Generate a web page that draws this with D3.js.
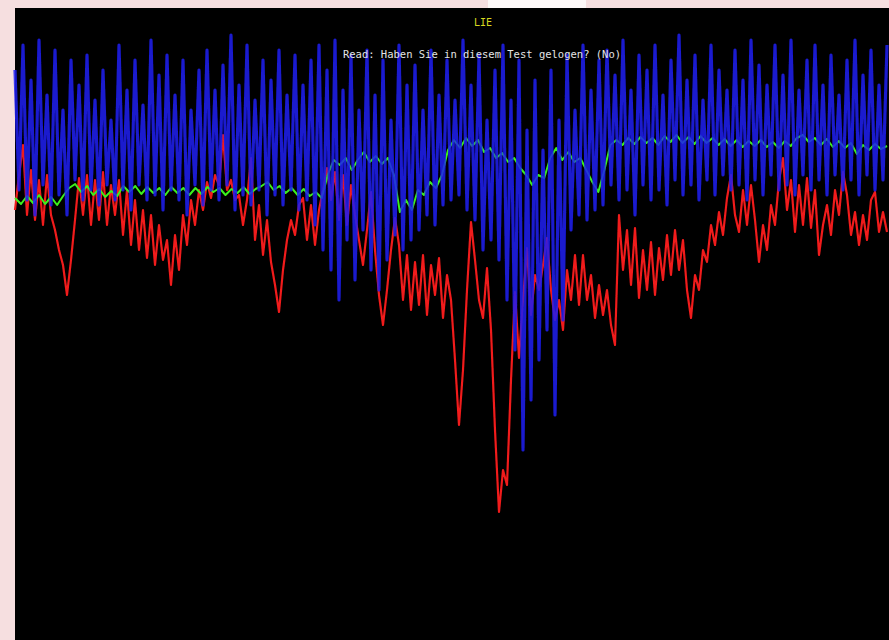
<!DOCTYPE html>
<html>
<head>
<meta charset="utf-8">
<script src="https://cdn.jsdelivr.net/npm/d3@7"></script>
<style>
  html, body { margin: 0; padding: 0; background: #f6dfe0; }
  svg { display: block; }
</style>
</head>
<body>
<svg id="eeg"></svg>
<script>
const width = 889;
const height = 640;

const title = "LIE";
const subtitle = "Read: Haben Sie in diesem Test gelogen? (No)";

// channel amplitudes (arbitrary units, 0 = mid screen)
const blue = [
  254,134,279,124,244,109,284,139,229,119,274,129,214,109,264,144,239,124,269,134,
  224,119,254,139,204,124,279,134,234,114,264,139,219,124,284,129,249,114,269,134,
  229,124,264,109,214,139,254,119,274,134,234,124,259,139,289,114,239,129,279,119,
  224,134,264,109,244,129,274,119,229,134,269,114,239,124,264,99,279,
  74,254,54,284,24,234,84,269,44,214,94,274,54,229,34,264,64,204,89,279,
  74,239,84,259,94,214,109,274,99,229,119,264,124,224,129,284,114,239,104,269,
  74,204,84,254,64,279,24,224,-26,264,-126,194,-76,244,-36,174,-6,254,-91,204,
  4,269,94,214,109,279,104,234,114,264,
  119,274,139,249,124,284,134,234,109,269,139,254,124,279,134,229,119,264,144,289,
  129,244,139,269,124,224,144,279,129,254,149,234,134,274,139,244,124,284,144,259,
  129,239,149,279,134,249,139,284,129,234,149,264,134,279,144,239,129,269,149,229,
  134,264,144,284,129,249,149,274,134,239,144,279
];

const red = [
  114,149,179,109,154,104,144,99,149,109,94,74,59,29,64,104,146,109,149,99,
  144,104,152,99,139,109,144,89,134,79,124,74,114,66,109,59,99,64,84,39,
  89,54,109,79,124,99,134,114,142,126,149,139,189,134,144,124,129,99,124,166,
  84,119,69,104,62,39,12,54,84,104,89,119,126,84,119,79,114,134,156,124,
  152,104,149,99,139,109,84,59,94,132,74,29,-1,34,74,106,79,24,69,14,
  62,19,69,9,59,29,66,6,49,24,-36,-101,-46,34,102,64,24,6,56,-6,
  -106,-188,-146,-161,-56,32,-34,24,76,9,49,34,59,86,34,4,24,-6,54,24,
  69,19,69,24,49,6,39,9,34,-1,-21,109,54,94,39,96,26,74,34,82,
  29,76,44,89,49,94,54,84,34,6,49,34,74,62,99,79,112,89,126,149,
  109,92,134,99,139,104,62,99,74,119,99,144,166,114,144,92,139,99,146,96,
  134,69,99,119,89,134,109,152,129,89,112,79,109,84,124,132,92,112,92
];

const green = [
  126,120,128,121,129,120,127,119,128,136,140,132,138,129,135,127,133,128,138,132,
  138,130,137,131,136,129,137,131,136,129,136,130,137,132,136,129,135,131,137,130,
  135,138,142,134,138,131,136,129,135,128,132,126,
  149,164,159,166,154,164,172,162,168,160,166,149,112,124,114,134,129,142,136,149,
  174,184,176,186,178,184,172,176,166,171,162,166,156,149,139,149,146,166,176,164,
  172,162,166,154,142,132,154,179,
  184,179,186,180,187,181,186,179,188,182,189,181,187,180,188,181,186,179,185,178,
  184,177,183,178,184,177,182,176,183,178,186,189,182,186,179,185,177,183,176,181,
  170,179,174,180,175,178
];

const plot = { left: 15, top: 8, right: 889, bottom: 640 };

const svg = d3.select("#eeg")
  .attr("width", width)
  .attr("height", height)
  .attr("viewBox", [0, 0, width, height]);

// soft edges like the scanned screen
svg.append("defs").append("filter")
  .attr("id", "soft")
  .append("feGaussianBlur")
  .attr("stdDeviation", 0.55);

// screen frame
svg.append("rect")
  .attr("x", 488).attr("y", 0)
  .attr("width", 98).attr("height", plot.top)
  .attr("fill", "#fdf8f8");

svg.append("rect")
  .attr("x", plot.left).attr("y", plot.top)
  .attr("width", plot.right - plot.left)
  .attr("height", plot.bottom - plot.top)
  .attr("fill", "#000");

const y = d3.scaleLinear()
  .domain([-316, 316])
  .range([plot.bottom, plot.top]);

const channels = [
  { name: "red", values: red, color: "#f01a1a", width: 2.2, opacity: 1 },
  { name: "green", values: green, color: "#3cf01e", width: 2, opacity: 1 },
  { name: "blue", values: blue, color: "#1c1cf2", width: 3.2, opacity: 0.85 }
];

const g = svg.append("g").attr("filter", "url(#soft)");

channels.forEach(ch => {
  const x = d3.scaleLinear()
    .domain([0, ch.values.length - 1])
    .range([plot.left, plot.right - 2]);

  const line = d3.line()
    .x((d, i) => x(i))
    .y(d => y(d));

  g.append("path")
    .datum(ch.values)
    .attr("class", ch.name)
    .attr("fill", "none")
    .attr("stroke", ch.color)
    .attr("stroke-width", ch.width)
    .attr("stroke-opacity", ch.opacity)
    .attr("stroke-linejoin", "round")
    .attr("d", line);
});

svg.append("text")
  .attr("x", 483).attr("y", 26)
  .attr("text-anchor", "middle")
  .attr("font-family", "DejaVu Sans Mono, monospace")
  .attr("font-size", 10)
  .attr("fill", "#d8d820")
  .text(title);

svg.append("text")
  .attr("x", 482).attr("y", 58)
  .attr("text-anchor", "middle")
  .attr("font-family", "DejaVu Sans Mono, monospace")
  .attr("font-size", 10.5)
  .attr("fill", "#e4e4e4")
  .text(subtitle);
</script>
</body>
</html>
